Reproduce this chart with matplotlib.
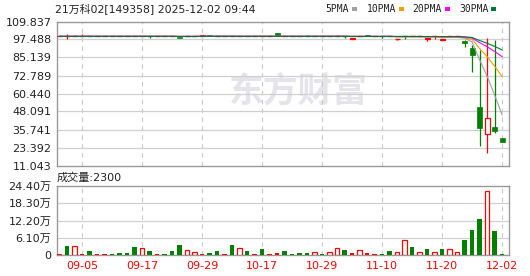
import matplotlib
matplotlib.use('Agg')
import matplotlib.pyplot as plt
from matplotlib.patches import Rectangle
import pandas as pd

plt.rcParams['font.family'] = ['DejaVu Sans', 'Noto Sans CJK SC']

# ── data ──────────────────────────────────────────────
title = '21万科02[149358] 2025-12-02 09:44'

dates = [
    '09-02', '09-03', '09-04', '09-05', '09-08', '09-09', '09-10', '09-11', '09-12', '09-15',
    '09-16', '09-17', '09-18', '09-19', '09-22', '09-23', '09-24', '09-25', '09-26', '09-29',
    '09-30', '10-09', '10-10', '10-13', '10-14', '10-15', '10-16', '10-17', '10-20', '10-21',
    '10-22', '10-23', '10-24', '10-27', '10-28', '10-29', '10-30', '10-31', '11-03', '11-04',
    '11-05', '11-06', '11-07', '11-10', '11-11', '11-12', '11-13', '11-14', '11-17', '11-18',
    '11-19', '11-20', '11-21', '11-24', '11-25', '11-26', '11-27', '11-28', '12-01', '12-02',
]
opens = [
    99.68, 99.68, 99.68, 99.68, 99.68, 99.68, 99.68, 99.68, 99.68, 99.68,
    99.68, 99.68, 99.68, 99.68, 99.68, 99.68, 99.41, 99.68, 99.68, 99.68,
    100.57, 99.68, 99.68, 99.68, 99.68, 99.68, 99.68, 99.68, 99.68, 101.95,
    99.68, 99.68, 99.68, 99.70, 99.68, 99.68, 99.68, 99.68, 99.68, 97.83,
    99.68, 100.57, 99.68, 99.68, 99.68, 97.35, 99.68, 99.68, 99.68, 97.80,
    99.68, 97.35, 99.68, 99.68, 96.67, 91.66, 51.18, 32.45, 37.46, 29.92,
]
highs = [
    99.68, 101.26, 100.57, 101.47, 99.68, 99.68, 99.68, 99.68, 99.68, 99.68,
    99.68, 99.68, 99.68, 99.68, 99.68, 99.68, 99.41, 99.68, 99.68, 100.57,
    100.57, 99.68, 99.68, 99.68, 99.68, 99.68, 99.68, 99.68, 100.57, 101.95,
    99.68, 99.68, 99.68, 100.78, 99.68, 99.68, 99.68, 100.57, 99.68, 98.72,
    99.68, 100.57, 99.68, 99.89, 99.68, 97.83, 99.89, 99.68, 99.68, 98.31,
    99.89, 98.04, 99.68, 99.68, 97.20, 93.70, 90.30, 98.31, 97.15, 29.92,
]
lows = [
    99.68, 97.83, 99.68, 99.68, 99.68, 99.68, 99.68, 99.68, 99.68, 99.68,
    99.68, 99.68, 98.31, 99.68, 99.68, 99.68, 98.72, 99.68, 99.68, 99.68,
    99.68, 99.68, 99.68, 99.68, 99.68, 99.68, 99.68, 99.68, 99.68, 99.68,
    99.68, 99.68, 99.68, 99.68, 99.68, 99.68, 99.68, 99.68, 98.72, 97.83,
    99.68, 99.68, 99.68, 98.31, 99.68, 97.35, 97.83, 99.68, 99.68, 96.67,
    98.04, 97.35, 99.68, 99.68, 92.34, 75.40, 24.63, 19.83, 33.55, 27.38,
]
closes = [
    99.68, 99.68, 99.68, 99.68, 99.68, 99.68, 99.68, 99.68, 99.68, 99.68,
    99.68, 99.68, 99.60, 99.68, 99.68, 99.68, 98.72, 99.68, 99.68, 100.57,
    99.68, 99.68, 99.68, 99.68, 99.68, 99.68, 99.68, 99.68, 99.68, 99.68,
    99.68, 99.68, 99.68, 99.68, 99.68, 99.68, 99.68, 99.68, 99.60, 98.72,
    99.68, 99.68, 99.68, 99.60, 99.68, 97.83, 99.60, 99.68, 99.68, 98.31,
    99.68, 98.04, 99.68, 99.68, 94.88, 87.16, 36.98, 43.43, 34.72, 27.38,
]
volumes = [
    3500, 32000, 32000, 3500, 15000, 3500, 3500, 3500, 7000, 7000,
    28000, 25000, 15000, 3500, 3500, 15000, 35000, 18000, 10600, 3500,
    7000, 15000, 3500, 35000, 25000, 15000, 3500, 22000, 3500, 7000,
    14000, 3500, 7000, 7000, 10600, 3500, 10600, 24000, 17700, 7000,
    17700, 7000, 3500, 3500, 14000, 10600, 53000, 28000, 10600, 21000,
    10600, 21000, 21000, 10600, 53000, 88000, 127000, 225000, 85000, 2300,
]
# u = up (hollow red), d = down (green), f = flat (filled red)
vol_dir = [
    'f', 'd', 'u', 'f', 'd', 'f', 'f', 'd', 'd', 'd',
    'd', 'u', 'd', 'f', 'd', 'd', 'd', 'u', 'u', 'f',
    'd', 'd', 'f', 'd', 'u', 'd', 'f', 'd', 'f', 'f',
    'd', 'd', 'd', 'd', 'u', 'd', 'u', 'u', 'd', 'f',
    'u', 'f', 'f', 'd', 'd', 'u', 'u', 'd', 'u', 'd',
    'u', 'd', 'u', 'u', 'd', 'd', 'd', 'u', 'd', 'd',
]

price_ticks = [11.043, 23.392, 35.741, 48.091, 60.440, 72.789, 85.139, 97.488, 109.837]
vol_ticks = [0, 61000, 122000, 183000, 244000]
vol_tick_labels = ['0', '6.10万', '12.20万', '18.30万', '24.40万']
xtick_labels = ['09-05', '09-17', '09-29', '10-17', '10-29', '11-10', '11-20', '12-02']

ma_windows = [5, 10, 20, 30]
ma_colors = ['#a0a0a0', '#f0a000', '#ff00ff', '#00783c']

RED, GREEN = '#ff0000', '#008000'

# ── layout (pixel based) ──────────────────────────────
W, H = 530, 276
fig = plt.figure(figsize=(W / 100, H / 100), dpi=100)
L, R = 57, 509
ax = fig.add_axes([L / W, 1 - 165.5 / H, (R - L) / W, (165.5 - 21.5) / H])
axv = fig.add_axes([L / W, 1 - 255 / H, (R - L) / W, (255 - 186) / H])

n = len(dates)
x = list(range(n))
xt = [dates.index(d) for d in xtick_labels]

for a in (ax, axv):
    a.set_xlim(-0.35, n - 0.07)
    for s in a.spines.values():
        s.set_color('#999999')
        s.set_linewidth(1)
    a.tick_params(length=0, labelsize=8, colors='#222222', pad=4)
    for xv in xt:
        a.axvline(xv, color='#c8c8c8', lw=0.8, ls=(0, (4, 4)), zorder=1)

# ── price panel ───────────────────────────────────────
ax.set_ylim(price_ticks[0], price_ticks[-1])
ax.set_yticks(price_ticks)
ax.set_yticklabels([f'{v:.3f}' for v in price_ticks])
ax.set_xticks([])
for yv in price_ticks[1:-1]:
    ax.axhline(yv, color='#d0d0d0', lw=0.9, zorder=1)

# watermark
ax.text(0.535, 0.52, '东方财富', transform=ax.transAxes, ha='center', va='center',
        fontsize=25, fontweight='bold', color='#e4e4ea', family='Noto Sans CJK SC', zorder=0)

bw = 0.66
for i in x:
    o, h, l, c = opens[i], highs[i], lows[i], closes[i]
    col = RED if c >= o else GREEN
    if h > l:
        ax.vlines(i, l, h, color=col, lw=0.9, zorder=2)
    if abs(c - o) < 0.5:
        ax.hlines((o + c) / 2, i - bw / 2, i + bw / 2, color=col, lw=1.0, zorder=3)
    elif c > o:
        ax.add_patch(Rectangle((i - bw / 2, o), bw, c - o, facecolor='white',
                               edgecolor=RED, lw=0.9, zorder=3))
    else:
        ax.add_patch(Rectangle((i - bw / 2, c), bw, o - c, facecolor=GREEN,
                               edgecolor=GREEN, lw=0.5, zorder=3))

cs = pd.Series(closes)
for win, col in zip(ma_windows, ma_colors):
    ax.plot(x, cs.rolling(win, min_periods=1).mean(), color=col, lw=0.8, zorder=4)

# ── volume panel ──────────────────────────────────────
axv.set_ylim(vol_ticks[0], vol_ticks[-1])
axv.set_yticks(vol_ticks)
axv.set_yticklabels(vol_tick_labels)
axv.set_xticks(xt)
axv.set_xticklabels(xtick_labels, color=RED)
for yv in vol_ticks[1:-1]:
    axv.axhline(yv, color='#d0d0d0', lw=0.9, zorder=1)

vw = 0.62
for i in x:
    v, d = volumes[i], vol_dir[i]
    if d == 'u':
        axv.add_patch(Rectangle((i - vw / 2, 0), vw, v, facecolor='white',
                                edgecolor=RED, lw=0.9, zorder=3))
    else:
        axv.bar(i, v, width=vw, color=GREEN if d == 'd' else RED, zorder=3)

# ── header texts ──────────────────────────────────────
fig.text(55 / W, 1 - 9 / H, title, fontsize=7.8, color='#222222', va='center', ha='left')
fig.text(57 / W, 1 - 177.5 / H, f'成交量:{volumes[-1]}', fontsize=8, color='#222222',
         va='center', ha='left')

leg_x = [325.5, 367, 412.5, 459]
for lx, win, col in zip(leg_x, ma_windows, ma_colors):
    t = fig.text(lx / W, 1 - 9 / H, f'{win}PMA', fontsize=7, family='DejaVu Sans Mono',
                 color='#222222', va='center', ha='left')
    fig.canvas.draw()
    bb = t.get_window_extent()
    fig.patches.append(Rectangle(((bb.x1 + 3) / W, 1 - 10.5 / H), 5 / W, 3 / H,
                                 transform=fig.transFigure, facecolor=col, edgecolor='none'))

fig.savefig('out.png', dpi=100, facecolor='white')
